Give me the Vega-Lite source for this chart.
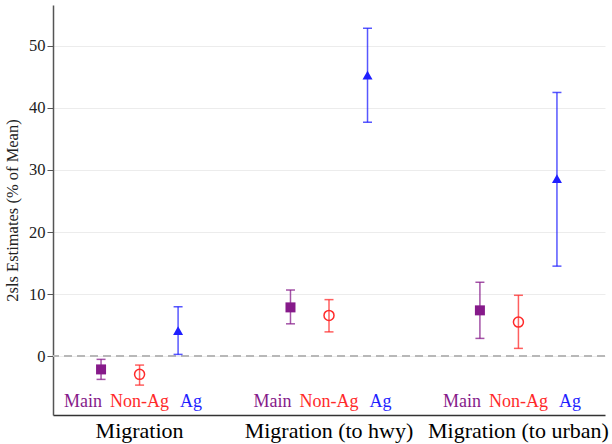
{
  "$schema": "https://vega.github.io/schema/vega-lite/v6.json",
  "width": 552,
  "height": 410,
  "autosize": {"type": "none"},
  "padding": {"left": 53, "top": 5, "right": 7, "bottom": 29},
  "background": "white",
  "config": {
    "font": "Liberation Serif, serif",
    "text": {"font": "Liberation Serif, serif"},
    "axis": {"labelFont": "Liberation Serif, serif", "titleFont": "Liberation Serif, serif"},
    "view": {"stroke": null}
  },
  "data": {
    "values": [
      {"group": "Migration", "series": "Main", "est": -2.15, "lo": -3.76, "hi": -0.53},
      {"group": "Migration", "series": "Non-Ag", "est": -2.95, "lo": -4.68, "hi": -1.45},
      {"group": "Migration", "series": "Ag", "est": 4.1, "lo": 0.27, "hi": 7.95},
      {"group": "Migration (to hwy)", "series": "Main", "est": 7.85, "lo": 5.2, "hi": 10.65},
      {"group": "Migration (to hwy)", "series": "Non-Ag", "est": 6.56, "lo": 3.9, "hi": 9.1},
      {"group": "Migration (to hwy)", "series": "Ag", "est": 45.3, "lo": 37.7, "hi": 52.85},
      {"group": "Migration (to urban)", "series": "Main", "est": 7.37, "lo": 2.85, "hi": 11.9},
      {"group": "Migration (to urban)", "series": "Non-Ag", "est": 5.48, "lo": 1.24, "hi": 9.8},
      {"group": "Migration (to urban)", "series": "Ag", "est": 28.6, "lo": 14.5, "hi": 42.5}
    ]
  },
  "encoding": {
    "x": {
      "field": "group",
      "type": "nominal",
      "sort": ["Migration", "Migration (to hwy)", "Migration (to urban)"],
      "scale": {"paddingInner": 0.39, "paddingOuter": 0.152},
      "axis": {
        "title": null,
        "labelAngle": 0,
        "labelFontSize": 22,
        "labelColor": "#000",
        "labelPadding": 5,
        "labelLimit": 0,
        "labelOverlap": false,
        "ticks": false,
        "domainColor": "#333",
        "domainWidth": 1.5,
        "grid": false
      }
    },
    "xOffset": {
      "field": "series",
      "type": "nominal",
      "sort": ["Main", "Non-Ag", "Ag"],
      "scale": {"paddingInner": 0, "paddingOuter": 0}
    },
    "color": {
      "field": "series",
      "type": "nominal",
      "scale": {"domain": ["Main", "Non-Ag", "Ag"], "range": ["#861a8a", "#ff2a2a", "#1f1fff"]},
      "legend": null
    }
  },
  "layer": [
    {
      "mark": {"type": "rule", "strokeDash": [8, 5], "strokeWidth": 2, "color": "#b8b8b8"},
      "encoding": {
        "y": {
          "datum": 0,
          "type": "quantitative",
          "scale": {"domain": [-9.5, 56.6], "nice": false, "zero": false},
          "axis": {
            "title": "2sls Estimates (% of Mean)",
            "titleFontSize": 16.5,
            "titleFontWeight": "normal",
            "titleColor": "#222",
            "titlePadding": 8,
            "values": [0, 10, 20, 30, 40, 50],
            "labelFontSize": 16.5,
            "labelColor": "#222",
            "labelPadding": 2,
            "tickSize": 6,
            "tickColor": "#555",
            "domainColor": "#555",
            "domainWidth": 1.5,
            "grid": true,
            "gridColor": "#ececec",
            "gridWidth": 1
          }
        },
        "x": null,
        "xOffset": null,
        "color": null
      }
    },
    {
      "mark": {"type": "rule", "strokeWidth": 1.5, "opacity": 0.75},
      "encoding": {
        "y": {"field": "lo", "type": "quantitative"},
        "y2": {"field": "hi"}
      }
    },
    {
      "mark": {"type": "tick", "thickness": 1.5, "size": 9, "opacity": 0.75},
      "encoding": {"y": {"field": "lo", "type": "quantitative"}}
    },
    {
      "mark": {"type": "tick", "thickness": 1.5, "size": 9, "opacity": 0.75},
      "encoding": {"y": {"field": "hi", "type": "quantitative"}}
    },
    {
      "transform": [{"filter": "datum.series !== 'Non-Ag'"}],
      "mark": {"type": "point", "filled": true, "opacity": 1},
      "encoding": {
        "y": {"field": "est", "type": "quantitative"},
        "shape": {
          "field": "series",
          "type": "nominal",
          "scale": {"domain": ["Main", "Non-Ag", "Ag"], "range": ["square", "circle", "triangle-up"]},
          "legend": null
        },
        "size": {
          "field": "series",
          "type": "nominal",
          "scale": {"domain": ["Main", "Non-Ag", "Ag"], "range": [100, 100, 150]},
          "legend": null
        }
      }
    },
    {
      "transform": [{"filter": "datum.series === 'Non-Ag'"}],
      "mark": {"type": "point", "shape": "circle", "filled": false, "size": 100, "strokeWidth": 1.5, "opacity": 1},
      "encoding": {"y": {"field": "est", "type": "quantitative"}}
    },
    {
      "transform": [{"filter": "datum.series === 'Main'"}],
      "mark": {"type": "text", "align": "right", "baseline": "middle", "fontSize": 18, "dx": 1},
      "encoding": {"y": {"datum": -7.4}, "text": {"field": "series"}}
    },
    {
      "transform": [{"filter": "datum.series === 'Non-Ag'"}],
      "mark": {"type": "text", "align": "center", "baseline": "middle", "fontSize": 18},
      "encoding": {"y": {"datum": -7.4}, "text": {"field": "series"}}
    },
    {
      "transform": [{"filter": "datum.series === 'Ag'"}],
      "mark": {"type": "text", "align": "left", "baseline": "middle", "fontSize": 18, "dx": 2},
      "encoding": {"y": {"datum": -7.4}, "text": {"field": "series"}}
    }
  ]
}
